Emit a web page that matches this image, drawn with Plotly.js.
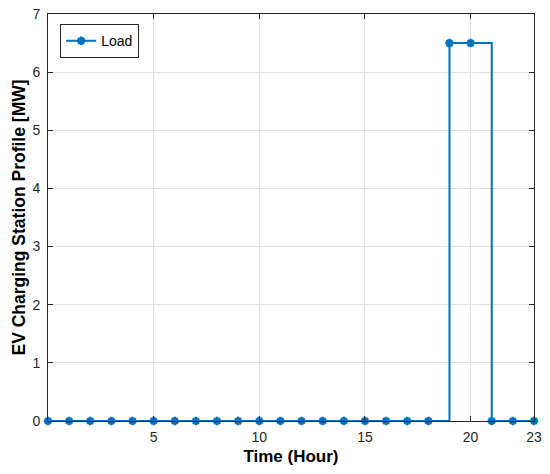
<!DOCTYPE html>
<html>
<head>
<meta charset="utf-8">
<script src="https://cdn.plot.ly/plotly-3.0.1.min.js"></script>
<style>
  html, body { margin: 0; padding: 0; background: #fff; }
  #plot { width: 550px; height: 474px; }
</style>
</head>
<body>
<div id="plot"></div>
<script>
// Hourly EV charging station load (MW)
const HOURS = [0, 1, 2, 3, 4, 5, 6, 7, 8, 9, 10, 11, 12, 13, 14, 15, 16, 17, 18, 19, 20, 21, 22, 23];
const LOAD = [0, 0, 0, 0, 0, 0, 0, 0, 0, 0, 0, 0, 0, 0, 0, 0, 0, 0, 0, 6.5, 6.5, 0, 0, 0];
const X_TICKS = [5, 10, 15, 20, 23];
const Y_TICKS = [0, 1, 2, 3, 4, 5, 6, 7];

const BLUE = '#0072BD';
const AXIS = '#262626';
const FONT = 'Liberation Sans, Arial, sans-serif';

const trace = {
  x: HOURS,
  y: LOAD,
  name: 'Load',
  type: 'scatter',
  mode: 'lines+markers',
  line: {color: BLUE, width: 2, shape: 'hv'},
  marker: {symbol: 'asterisk-open', size: 7, color: BLUE, line: {color: BLUE, width: 2.5}},
  cliponaxis: false,
};

const axisCommon = {
  showline: true,
  linecolor: AXIS,
  linewidth: 1,
  mirror: 'ticks',
  ticks: 'inside',
  ticklen: 5,
  tickcolor: AXIS,
  showgrid: true,
  gridcolor: '#dfdfdf',
  gridwidth: 1,
  zeroline: false,
  tickfont: {family: FONT, size: 14, color: AXIS},
};

const layout = {
  width: 550,
  height: 474,
  margin: {l: 48, r: 16, t: 14, b: 53},
  paper_bgcolor: '#fff',
  plot_bgcolor: '#fff',
  showlegend: true,
  legend: {
    x: 0.025, y: 0.975, xanchor: 'left', yanchor: 'top',
    bgcolor: '#fff', bordercolor: AXIS, borderwidth: 1,
    entrywidth: 88,
    font: {family: FONT, size: 14, color: '#000'},
  },
  xaxis: Object.assign({}, axisCommon, {
    range: [0, 23],
    tickvals: X_TICKS,
    ticktext: X_TICKS.map(String),
    ticklabelstandoff: 3,
    title: {text: '<b>Time (Hour)</b>', standoff: 6,
      font: {family: FONT, size: 17, color: '#000'}},
  }),
  yaxis: Object.assign({}, axisCommon, {
    range: [0, 7],
    tickvals: Y_TICKS,
    ticktext: Y_TICKS.map(String),
    ticklabelstandoff: 4,
    title: {text: '<b>EV Charging Station Profile [MW]</b>', standoff: 2,
      font: {family: FONT, size: 17.5, color: '#000'}},
  }),
};

Plotly.newPlot('plot', [trace], layout, {displayModeBar: false, staticPlot: true});
</script>
</body>
</html>
